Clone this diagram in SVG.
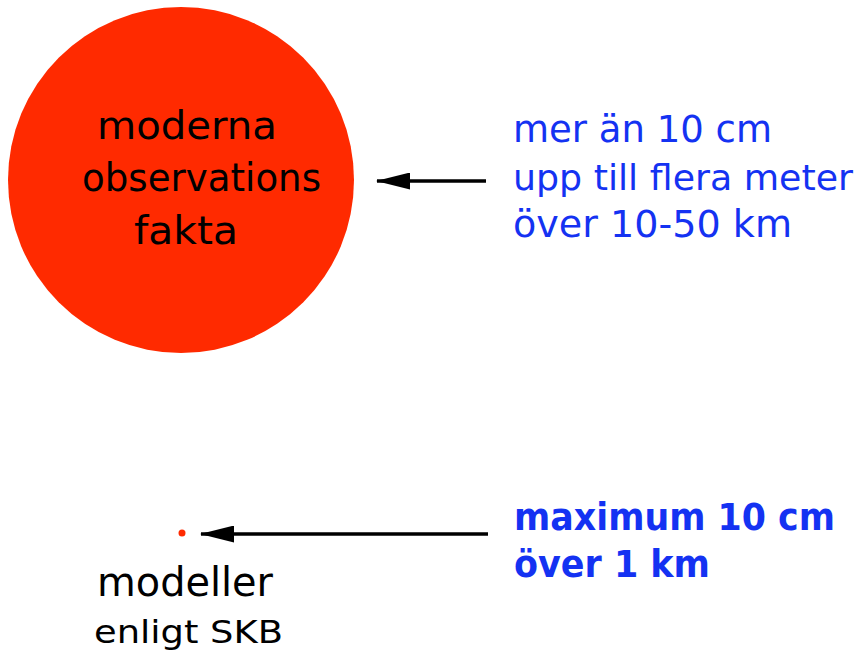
<svg xmlns="http://www.w3.org/2000/svg" width="864" height="655" viewBox="0 0 864 655">
<style>
.blk{font-family:"DejaVu Sans","Liberation Sans",sans-serif;fill:#000}
.blu{font-family:"DejaVu Sans","Liberation Sans",sans-serif;fill:#1432f2}
.ln{stroke:#000;stroke-width:3.5;fill:none}
</style>
<defs>
<marker id="ah" markerUnits="userSpaceOnUse" markerWidth="34" markerHeight="17" viewBox="0 0 34 17" refX="33" refY="8.5" orient="auto">
<path d="M0,0 L34,8.5 L0,17 Z" fill="#000"/>
</marker>
</defs>
<rect width="864" height="655" fill="#fff"/>
<g id="observations">
<circle cx="181" cy="180" r="173" fill="#ff2a00"/>
<text class="blk" x="97" y="139" font-size="39" textLength="180" lengthAdjust="spacingAndGlyphs">moderna</text>
<text class="blk" x="82" y="191" font-size="39" textLength="239" lengthAdjust="spacingAndGlyphs">observations</text>
<text class="blk" x="134" y="244" font-size="39" textLength="104" lengthAdjust="spacingAndGlyphs">fakta</text>
</g>
<g id="modeller">
<circle cx="182" cy="533" r="3.5" fill="#ff2a00"/>
<text class="blk" x="97" y="596" font-size="40" textLength="176" lengthAdjust="spacingAndGlyphs">modeller</text>
<text class="blk" x="94" y="643" font-size="32" textLength="189" lengthAdjust="spacingAndGlyphs">enligt SKB</text>
</g>
<g id="label-top">
<text class="blu" x="513" y="142" font-size="37" textLength="259" lengthAdjust="spacingAndGlyphs">mer än 10 cm</text>
<text class="blu" x="513" y="190" font-size="36" textLength="340" lengthAdjust="spacingAndGlyphs">upp till flera meter</text>
<text class="blu" x="513" y="237" font-size="37" textLength="279" lengthAdjust="spacingAndGlyphs">över 10-50 km</text>
</g>
<g id="label-bottom">
<text class="blu" x="514" y="530" font-size="37" font-weight="bold" textLength="321" lengthAdjust="spacingAndGlyphs">maximum 10 cm</text>
<text class="blu" x="514" y="577" font-size="37" font-weight="bold" textLength="196" lengthAdjust="spacingAndGlyphs">över 1 km</text>
</g>
<g id="connectors">
<line class="ln" x1="486" y1="181" x2="377" y2="181" marker-end="url(#ah)"/>
<line class="ln" x1="488" y1="534" x2="201" y2="534" marker-end="url(#ah)"/>
</g>
</svg>
